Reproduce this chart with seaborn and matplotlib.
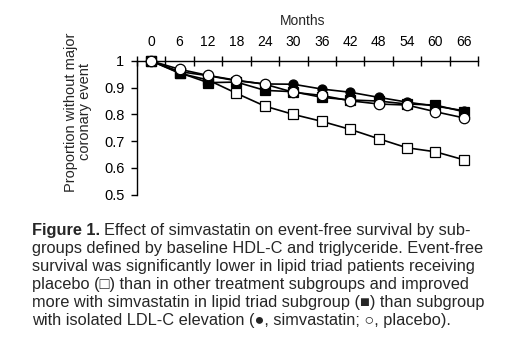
import matplotlib
matplotlib.use("Agg")
import matplotlib.pyplot as plt
import seaborn as sns
import pandas as pd
import numpy as np

sns.set_theme(style="white")
plt.rcParams['font.family'] = ['Liberation Sans', 'DejaVu Sans']

months = [0, 6, 12, 18, 24, 30, 36, 42, 48, 54, 60, 66]
triad_placebo = [1.0, 0.954, 0.929, 0.879, 0.831, 0.800, 0.774, 0.744, 0.709, 0.675, 0.660, 0.630]
triad_simva = [1.0, 0.956, 0.919, 0.921, 0.890, 0.885, 0.864, 0.854, 0.850, 0.839, 0.835, 0.810]
ldl_simva = [1.0, 0.960, 0.945, 0.926, 0.914, 0.913, 0.895, 0.883, 0.864, 0.846, 0.831, 0.814]
ldl_placebo = [1.0, 0.969, 0.946, 0.928, 0.913, 0.883, 0.871, 0.851, 0.839, 0.835, 0.810, 0.787]
y_ticks = [0.5, 0.6, 0.7, 0.8, 0.9, 1.0]
y_ticklabels = ["0.5", "0.6", "0.7", "0.8", "0.9", "1"]

W, H = 531, 345
fig = plt.figure(figsize=(W / 100, H / 100), dpi=100)
fig.patch.set_facecolor("white")
ax = fig.add_axes([137 / W, 1 - 194.5 / H, 341 / W, 133.5 / H])
ax.set_facecolor("white")

series = [
    (triad_placebo, "s", "white", 6.5),
    (triad_simva, "s", "black", 6.5),
    (ldl_simva, "o", "black", 6.5),
    (ldl_placebo, "o", "white", 7.5),
]
for i, (vals, mk, fc, ms) in enumerate(series):
    df = pd.DataFrame({"Months": months, "p": vals})
    sns.lineplot(data=df, x="Months", y="p", ax=ax, color="black", linewidth=1.2,
                 marker=mk, markersize=ms, markerfacecolor=fc, markeredgecolor="black",
                 markeredgewidth=0.9, clip_on=False, zorder=3 + i, legend=False)

ax.set_xlim(-3, 69)
ax.set_ylim(0.5, 1.0)
ax.set_xlabel("")
ax.set_ylabel("")

for s in ["bottom", "right"]:
    ax.spines[s].set_visible(False)
for s in ["top", "left"]:
    ax.spines[s].set_visible(True)
    ax.spines[s].set_color("black")
    ax.spines[s].set_linewidth(1.0)

ax.xaxis.set_ticks_position("top")
ax.xaxis.set_label_position("top")
ax.set_xticks(months)
ax.set_xticklabels([str(m) for m in months])
ax.set_xticks(np.arange(-3, 70, 6), minor=True)
ax.tick_params(axis="x", which="major", length=0, pad=9, labelsize=10, colors="black")
ax.tick_params(axis="x", which="minor", length=7, direction="inout", width=1.0, color="black", top=True, bottom=False)

ax.set_yticks(y_ticks)
ax.set_yticklabels(y_ticklabels)
ax.tick_params(axis="y", which="major", length=4, direction="out", width=1.0, pad=5, labelsize=10.5,
               colors="black", left=True)

fig.text(303 / W, 1 - 21 / H, "Months", ha="center", va="center", fontsize=10)
fig.text(78 / W, 1 - 112 / H, "Proportion without major\ncoronary event", ha="center", va="center",
         rotation=90, fontsize=10.5, linespacing=1.05)

# caption
cap_fs = 11.8
x0 = 32 / W
ys = [230, 248, 266, 284, 303, 321]
t = fig.text(x0, 1 - ys[0] / H, "Figure 1.", fontsize=cap_fs, fontweight="bold", va="center", ha="left")
fig.canvas.draw()
bb = t.get_window_extent(renderer=fig.canvas.get_renderer())
fig.text(bb.x1 / W + 4 / W, 1 - ys[0] / H, "Effect of simvastatin on event-free survival by sub-",
         fontsize=cap_fs, va="center", ha="left")
lines = [
    "groups defined by baseline HDL-C and triglyceride. Event-free",
    "survival was significantly lower in lipid triad patients receiving",
    "placebo (\u25a1) than in other treatment subgroups and improved",
    "more with simvastatin in lipid triad subgroup (\u25a0) than subgroup",
    "with isolated LDL-C elevation (\u25cf, simvastatin; \u25cb, placebo).",
]
for yy, ln in zip(ys[1:], lines):
    fig.text(x0, 1 - yy / H, ln, fontsize=cap_fs, va="center", ha="left")

fig.savefig("out.png", dpi=100, facecolor="white")
